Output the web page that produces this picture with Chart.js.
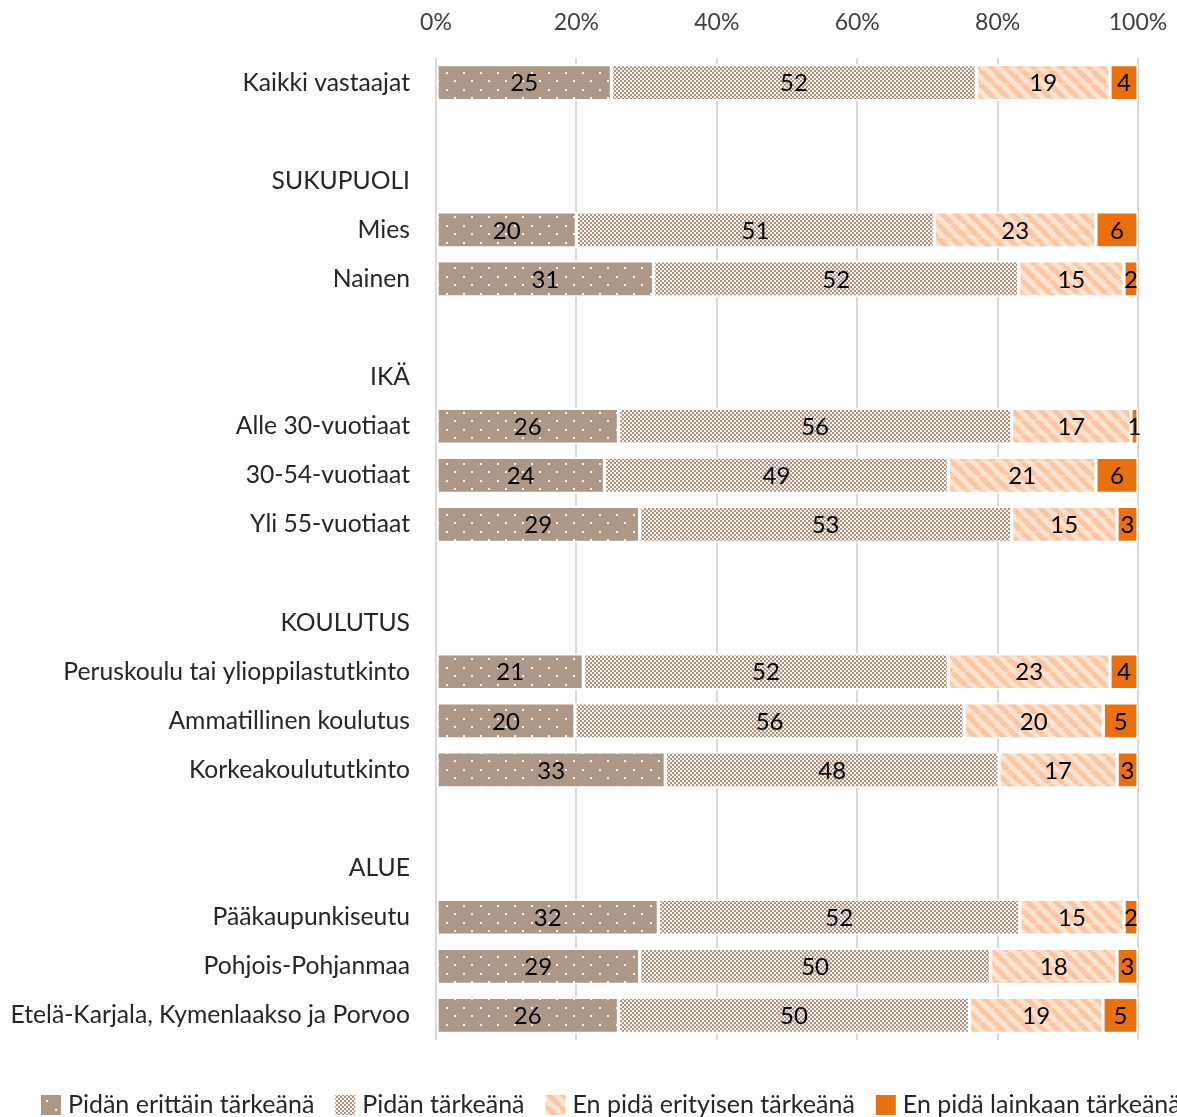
<!DOCTYPE html>
<html><head><meta charset="utf-8">
<script src="https://cdn.jsdelivr.net/npm/chart.js@4.4.1/dist/chart.umd.min.js"></script>
<style>html,body{margin:0;padding:0;background:#fff;overflow:hidden}</style>
</head><body>
<canvas id="c" width="1177" height="1117"></canvas>
<script>
const categories = ["Kaikki vastaajat","","SUKUPUOLI","Mies","Nainen","","IKÄ","Alle 30-vuotiaat","30-54-vuotiaat","Yli 55-vuotiaat","","KOULUTUS","Peruskoulu tai ylioppilastutkinto","Ammatillinen koulutus","Korkeakoulututkinto","","ALUE","Pääkaupunkiseutu","Pohjois-Pohjanmaa","Etelä-Karjala, Kymenlaakso ja Porvoo"];
const seriesNames = ["Pidän erittäin tärkeänä","Pidän tärkeänä","En pidä erityisen tärkeänä","En pidä lainkaan tärkeänä"];
const erittainTarkea = [25,null,null,20,31,null,null,26,24,29,null,null,21,20,33,null,null,32,29,26];
const tarkea         = [52,null,null,51,52,null,null,56,49,53,null,null,52,56,48,null,null,52,50,50];
const eiErityisen    = [19,null,null,23,15,null,null,17,21,15,null,null,23,20,17,null,null,15,18,19];
const eiLainkaan     = [4,null,null,6,2,null,null,1,6,3,null,null,4,5,3,null,null,2,3,5];
const xTickStep = 20;

const FONT = 'Lato';
const canvas = document.getElementById('c');
const ctx = canvas.getContext('2d');

function makePattern(w,h,draw){
  const c=document.createElement('canvas');c.width=w;c.height=h;
  const g=c.getContext('2d');draw(g,w,h);
  return ctx.createPattern(c,'repeat');
}
const dotPat = makePattern(17,17,g=>{
  g.fillStyle='#AD9787';g.fillRect(0,0,17,17);
  g.fillStyle='rgba(255,255,255,0.95)';
  g.fillRect(4,4,2,2);g.fillRect(12,12,2,2);
});
const checkPat = makePattern(4,4,g=>{
  g.fillStyle='#F4F0EC';g.fillRect(0,0,4,4);
  g.fillStyle='#AA9280';g.fillRect(0,0,2,2);g.fillRect(2,2,2,2);
});
const stripePat = makePattern(14,14,g=>{
  g.fillStyle='#FFE2CF';g.fillRect(0,0,14,14);
  g.strokeStyle='#FCC6A2';g.lineWidth=5;
  for(const o of [-14,0,14]){g.beginPath();g.moveTo(o,0);g.lineTo(o+14,14);g.stroke();}
});
const orange = '#E8700F';

const rawSeries = [erittainTarkea,tarkea,eiErityisen,eiLainkaan];
const fills = [dotPat,checkPat,stripePat,orange];
const totals = categories.map((_,i)=>rawSeries.reduce((s,a)=>s+(a[i]||0),0));
const datasets = rawSeries.map((arr,k)=>({
  label: seriesNames[k],
  rawValues: arr,
  data: arr.map((v,i)=> v==null?null: v/totals[i]*100),
  backgroundColor: fills[k],
  borderColor:'#FFFFFF',
  borderWidth:2,
  borderSkipped:false,
  barThickness:36
}));

const labelPlugin = {
  id:'vals',
  afterDatasetsDraw(chart){
    const c=chart.ctx;c.save();
    c.font='24px '+FONT;c.fillStyle='#000';c.textAlign='center';c.textBaseline='middle';
    chart.data.datasets.forEach((ds,i)=>{
      const meta=chart.getDatasetMeta(i);
      meta.data.forEach((el,j)=>{
        const v=ds.rawValues[j]; if(v==null) return;
        const p=el.getProps(['x','base','y'],true);
        c.fillText(String(v),(p.x+p.base)/2,p.y+1);
      });
    });
    c.restore();
  }
};
const legendPlugin = {
  id:'lg',
  afterDraw(chart){
    const c=chart.ctx;c.save();
    c.font='25px '+FONT;c.textBaseline='middle';c.textAlign='left';
    let x=41;const yc=1105;
    chart.data.datasets.forEach(ds=>{
      c.fillStyle=ds.backgroundColor;c.fillRect(x,yc-10,20,20);
      c.fillStyle='#262626';c.fillText(ds.label,x+27,yc);
      x+=27+c.measureText(ds.label).width+21;
    });
    c.restore();
  }
};

new Chart(ctx,{
  type:'bar',
  data:{labels:categories,datasets},
  plugins:[labelPlugin,legendPlugin],
  options:{
    responsive:false,animation:false,indexAxis:'y',devicePixelRatio:1,
    layout:{padding:{left:0,right:39,top:0,bottom:77}},
    plugins:{legend:{display:false},tooltip:{enabled:false}},
    scales:{
      x:{position:'top',stacked:true,min:0,max:100,
        ticks:{stepSize:xTickStep,callback:v=>v+'%',color:'#404040',font:{family:FONT,size:23},padding:22,maxRotation:0},
        grid:{color:'#D9D9D9',lineWidth:2,drawTicks:false},border:{display:false},
        afterFit(s){s.height=58;s.paddingLeft=0;s.paddingRight=0;}},
      y:{stacked:true,
        ticks:{color:'#262626',font:{family:FONT,size:24.7},padding:26,autoSkip:false},
        grid:{display:false,drawTicks:false},border:{display:false},
        afterFit(s){s.width=436;}}
    }
  }
});
</script>
</body></html>
